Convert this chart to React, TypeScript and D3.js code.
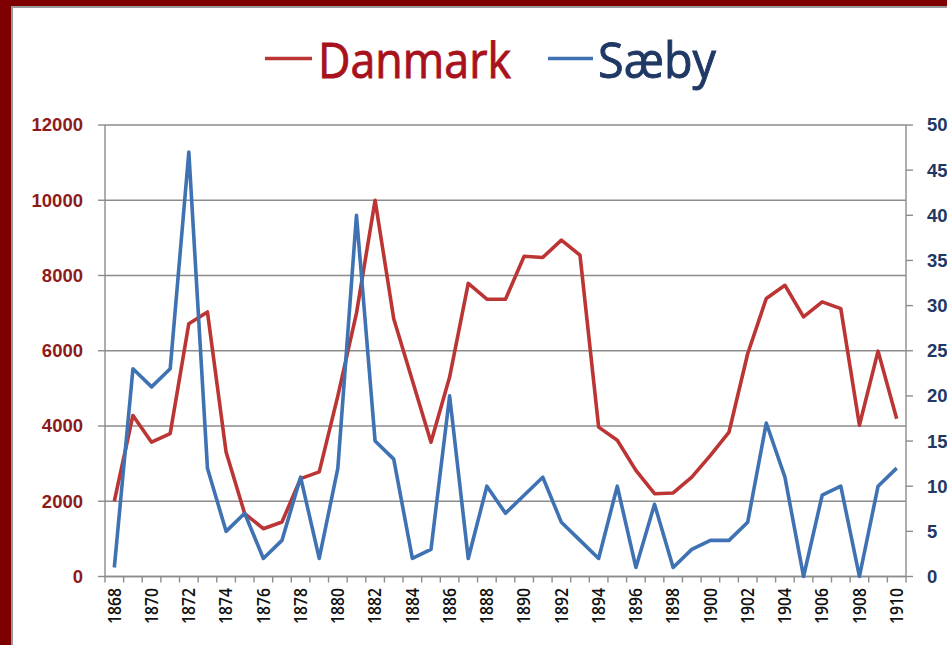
import React from "react";
import * as d3 from "d3";

const years: number[] = d3.range(1868, 1911);
const danmark: number[] = [
  2000, 4280, 3570, 3800, 6720, 7030, 3310, 1670, 1270, 1450,
  2600, 2780, 4800, 7000, 10000, 6850, 5210, 3570, 5300, 7790,
  7370, 7370, 8510, 8480, 8940, 8540, 3970, 3620, 2820, 2200,
  2220, 2640, 3220, 3840, 5920, 7390, 7740, 6900, 7300, 7120,
  4020, 5990, 4190,
];
const saeby: number[] = [
  1, 23, 21, 23, 47, 12, 5, 7, 2, 4,
  11, 2, 12, 40, 15, 13, 2, 3, 20, 2,
  10, 7, 9, 11, 6, 4, 2, 10, 1, 8,
  1, 3, 4, 4, 6, 17, 11, 0, 9, 10,
  0, 10, 12,
];
const leftTicks: number[] = [0, 2000, 4000, 6000, 8000, 10000, 12000];
const rightTicks: number[] = [0, 5, 10, 15, 20, 25, 30, 35, 40, 45, 50];
const seriesNames: string[] = ["Danmark", "Sæby"];

const W = 947;
const H = 645;
const L = 105;
const R = 906;
const T = 125;
const B = 576.5;

const RED_LINE = "#BC3535";
const BLUE_LINE = "#3E72B3";
const RED_TEXT = "#A8121C";
const NAVY_TEXT = "#1F3864";
const LEFT_LABEL = "#8E1B1B";
const GRID = "#8c8c8c";

export default function App() {
  const x = d3
    .scaleBand<number>()
    .domain(years)
    .range([L, R])
    .paddingInner(0)
    .paddingOuter(0);
  const cx = (yr: number) => (x(yr) as number) + x.bandwidth() / 2;
  const yL = d3.scaleLinear().domain([0, 12000]).range([B, T]);
  const yR = d3.scaleLinear().domain([0, 50]).range([B, T]);

  const lineD = d3
    .line<number>()
    .x((_, i) => cx(years[i]))
    .y((d) => yL(d));
  const lineS = d3
    .line<number>()
    .x((_, i) => cx(years[i]))
    .y((d) => yR(d));

  const font = "'Liberation Sans', Arial, sans-serif";
  const titleFont = "'Open Sans', 'Noto Sans', sans-serif";

  const boundaries = years.map((yr) => x(yr) as number).concat([R]);

  return (
    <svg
      width={W}
      height={H}
      style={{ position: "absolute", left: 0, top: 0, display: "block" }}
    >
      <rect x={0} y={0} width={W} height={H} fill="#7E0000" />
      <rect x={11} y={6} width={W} height={H} fill="#9a9a9a" />
      <rect x={13} y={8} width={W} height={H} fill="#ffffff" />

      {/* Legend */}
      <line x1={265} x2={312} y1={58.5} y2={58.5} stroke={RED_LINE} strokeWidth={3.5} />
      <text
        x={318}
        y={78}
        fill={RED_TEXT}
        stroke={RED_TEXT}
        strokeWidth={0.9}
        fontFamily={titleFont}
        fontSize={50}
        textLength={193}
        lengthAdjust="spacingAndGlyphs"
      >
        {seriesNames[0]}
      </text>
      <line x1={548} x2={593} y1={58.5} y2={58.5} stroke={BLUE_LINE} strokeWidth={3.5} />
      <text
        x={598}
        y={78}
        fill={NAVY_TEXT}
        stroke={NAVY_TEXT}
        strokeWidth={0.9}
        fontFamily={titleFont}
        fontSize={50}
        textLength={118}
        lengthAdjust="spacingAndGlyphs"
      >
        {seriesNames[1]}
      </text>

      {/* Gridlines */}
      {leftTicks.map((t) => (
        <line
          key={"g" + t}
          x1={L}
          x2={R}
          y1={yL(t)}
          y2={yL(t)}
          stroke={GRID}
          strokeWidth={1.4}
        />
      ))}

      {/* Axes */}
      <line x1={L} x2={L} y1={T} y2={B} stroke={GRID} strokeWidth={1.4} />
      <line x1={R} x2={R} y1={T} y2={B} stroke={GRID} strokeWidth={1.4} />
      <line x1={L} x2={R} y1={B} y2={B} stroke={GRID} strokeWidth={1.4} />

      {leftTicks.map((t) => (
        <g key={"l" + t}>
          <line x1={L - 7} x2={L} y1={yL(t)} y2={yL(t)} stroke={GRID} strokeWidth={1.4} />
          <text
            x={83}
            y={yL(t)}
            dy="0.35em"
            textAnchor="end"
            fill={LEFT_LABEL}
            fontFamily={font}
            fontWeight="bold"
            fontSize={18.5}
          >
            {t}
          </text>
        </g>
      ))}

      {rightTicks.map((t) => (
        <g key={"r" + t}>
          <line x1={R} x2={R + 7} y1={yR(t)} y2={yR(t)} stroke={GRID} strokeWidth={1.4} />
          <text
            x={927}
            y={yR(t)}
            dy="0.35em"
            textAnchor="start"
            fill={NAVY_TEXT}
            fontFamily={font}
            fontWeight="bold"
            fontSize={18.5}
          >
            {t}
          </text>
        </g>
      ))}

      {boundaries.map((bx, i) => (
        <line key={"xt" + i} x1={bx} x2={bx} y1={B} y2={B + 6} stroke={GRID} strokeWidth={1.4} />
      ))}

      {years
        .filter((yr) => (yr - 1868) % 2 === 0)
        .map((yr) => (
          <text
            key={"x" + yr}
            transform={`translate(${cx(yr)},${588}) rotate(-90)`}
            textAnchor="end"
            dy="0.36em"
            fill="#111"
            fontFamily={titleFont}
            fontWeight={600}
            fontSize={17.5}
            textLength={36}
            lengthAdjust="spacingAndGlyphs"
          >
            {yr}
          </text>
        ))}

      {/* Series */}
      <path
        d={lineD(danmark) || ""}
        fill="none"
        stroke={RED_LINE}
        strokeWidth={3.6}
        strokeLinejoin="round"
      />
      <path
        d={lineS(saeby) || ""}
        fill="none"
        stroke={BLUE_LINE}
        strokeWidth={3.6}
        strokeLinejoin="round"
      />
    </svg>
  );
}
